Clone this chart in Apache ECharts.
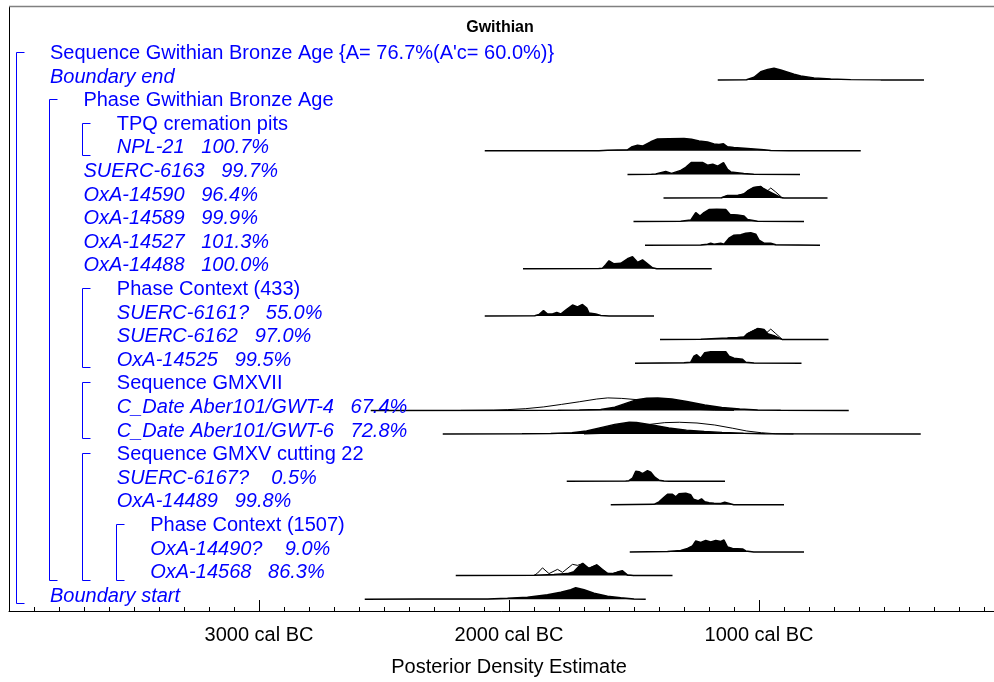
<!DOCTYPE html>
<html>
<head>
<meta charset="utf-8">
<script src="https://cdn.jsdelivr.net/npm/echarts@6/dist/echarts.min.js"></script>
<style>
html, body { margin: 0; padding: 0; background: #fff; overflow: hidden; }
#chart { width: 994px; height: 682px; }
</style>
</head>
<body>
<div id="chart"></div>
<script>
// Gwithian Bronze Age model: posterior density estimates (OxCal-style multiplot)

// Row labels, top to bottom
const rowNames = [
  "Sequence Gwithian Bronze Age {A= 76.7%(A'c= 60.0%)}",
  'Boundary end',
  'Phase Gwithian Bronze Age',
  'TPQ cremation pits',
  'NPL-21',
  'SUERC-6163',
  'OxA-14590',
  'OxA-14589',
  'OxA-14527',
  'OxA-14488',
  'Phase Context (433)',
  'SUERC-6161?',
  'SUERC-6162',
  'OxA-14525',
  'Sequence GMXVII',
  'C_Date Aber101/GWT-4',
  'C_Date Aber101/GWT-6',
  'Sequence GMXV cutting 22',
  'SUERC-6167?',
  'OxA-14489',
  'Phase Context (1507)',
  'OxA-14490?',
  'OxA-14568',
  'Boundary start'
];

// Agreement indices shown after each date
const rowAgreement = [
  '', '', '', '', '100.7%', '99.7%', '96.4%', '99.9%', '101.3%', '100.0%',
  '', '55.0%', '97.0%', '99.5%', '', '67.4%', '72.8%', '', '0.5%', '99.8%',
  '', '9.0%', '86.3%', ''
];

// Model structure: [first row, last row] of each Sequence / Phase
const groupRows = [[0, 23], [2, 22], [3, 4], [10, 13], [14, 16], [17, 22], [20, 22]];

// Axis tick labels (years cal BC)
const tickYears = [3000, 2000, 1000];

// Distributions: [year cal BC, relative probability]
const boundaryEnd = [[1165,0],[1050,2],[1020,22],[993,66],[965,85],[940,94],[913,80],[885,62],[860,46],[833,32],[780,17],[713,8],[633,3],[513,1],[340,0]];
const npl21 = [[2097,0],[1640,1],[1606,4],[1526,8],[1510,30],[1486,45],[1466,38],[1433,72],[1406,94],[1360,97],[1300,98],[1270,92],[1240,78],[1206,70],[1180,54],[1160,50],[1142,56],[1126,32],[1101,26],[1046,18],[981,8],[953,2],[880,1],[593,0]];
const suerc6163 = [[1526,0],[1430,1],[1413,4],[1373,24],[1350,8],[1313,32],[1293,56],[1270,96],[1226,96],[1206,74],[1185,82],[1165,66],[1142,94],[1126,40],[1113,20],[1061,8],[1021,2],[836,0]];
const oxa14590 = [[1382,0],[1150,2],[1126,20],[1086,20],[1061,32],[1046,56],[1021,84],[993,92],[981,74],[965,56],[941,32],[913,4],[900,0],[726,0]];
const oxa14590Lik = [[1150,2],[1126,20],[1086,20],[1061,32],[1046,56],[1021,84],[993,92],[981,74],[969,52],[953,80],[933,48],[906,0]];
const oxa14589 = [[1502,0],[1313,2],[1273,12],[1253,72],[1236,44],[1220,72],[1200,96],[1169,98],[1133,96],[1116,56],[1086,52],[1060,44],[1046,16],[1006,2],[820,0]];
const oxa14527 = [[1456,0],[1233,2],[1206,8],[1193,16],[1180,8],[1153,16],[1140,8],[1120,56],[1100,80],[1073,84],[1053,96],[1033,100],[1013,88],[1000,40],[980,16],[953,16],[933,4],[756,0]];
const oxa14488 = [[1944,0],[1641,2],[1626,4],[1613,32],[1600,64],[1580,40],[1553,44],[1526,80],[1506,96],[1486,52],[1466,72],[1446,40],[1426,8],[1409,0],[1189,0]];
const suerc6161 = [[2097,0],[1897,2],[1880,12],[1862,44],[1846,16],[1826,16],[1809,28],[1793,16],[1773,48],[1746,88],[1726,72],[1706,92],[1689,64],[1680,24],[1653,16],[1633,4],[1600,0],[1420,0]];
const suerc6162 = [[1396,0],[1233,2],[1126,12],[1086,16],[1060,20],[1046,48],[1006,88],[980,80],[966,48],[940,32],[906,0],[722,0]];
const suerc6162Lik = [[1126,12],[1086,16],[1060,20],[1046,48],[1006,88],[980,80],[969,56],[953,84],[933,48],[906,0]];
const oxa14525 = [[1496,0],[1300,4],[1273,8],[1260,56],[1249,68],[1233,40],[1217,84],[1193,92],[1133,92],[1120,56],[1100,40],[1066,32],[1053,8],[1020,2],[830,0]];
const gwt4 = [[2553,0],[1805,2],[1719,4],[1633,8],[1577,26],[1533,56],[1489,86],[1449,97],[1405,100],[1349,91],[1289,71],[1217,43],[1149,23],[1077,11],[1005,4],[913,1],[641,0]];
const gwt4Lik = [[2193,0],[2062,2],[2005,6],[1933,14],[1861,28],[1790,48],[1719,69],[1649,91],[1605,100],[1549,96],[1489,86],[1433,62],[1377,38],[1317,20],[1249,8],[1177,2],[1100,0]];
const gwt6 = [[2265,0],[1948,2],[1833,4],[1748,10],[1690,24],[1633,51],[1577,77],[1519,94],[1490,93],[1433,74],[1361,48],[1290,31],[1219,20],[1148,13],[1062,6],[977,2],[353,0]];
const gwt6Lik = [[1700,0],[1633,4],[1577,16],[1519,40],[1433,78],[1377,91],[1319,94],[1248,88],[1177,72],[1105,46],[1049,24],[990,10],[933,2],[862,0]];
const suerc6167 = [[1769,0],[1533,2],[1520,4],[1506,24],[1493,80],[1480,76],[1466,60],[1446,84],[1433,72],[1417,32],[1400,8],[1380,2],[1360,0],[1136,0]];
const oxa14489 = [[1593,0],[1420,4],[1400,24],[1380,60],[1366,84],[1346,84],[1333,64],[1320,88],[1293,92],[1273,80],[1262,44],[1244,32],[1230,48],[1217,24],[1200,16],[1180,12],[1153,10],[1137,20],[1129,4],[1101,0],[900,0]];
const oxa14490 = [[1517,0],[1366,4],[1313,12],[1286,28],[1266,48],[1253,88],[1233,76],[1213,92],[1193,80],[1173,92],[1153,84],[1140,96],[1126,40],[1106,28],[1066,24],[1053,8],[1021,0],[820,0]];
const oxa14568 = [[2213,0],[1900,2],[1820,8],[1766,16],[1740,32],[1721,72],[1705,98],[1681,58],[1649,86],[1626,48],[1606,18],[1586,16],[1566,28],[1546,38],[1526,4],[1501,0],[1346,0]];
const oxa14568Lik = [[1900,0],[1886,20],[1866,62],[1840,16],[1806,50],[1786,26],[1746,90],[1726,82],[1706,96],[1681,58],[1649,86],[1626,48],[1606,18],[1586,16],[1566,28],[1546,38],[1526,4],[1501,0]];
const boundaryStart = [[2577,0],[2353,1],[2085,2],[2006,8],[1926,16],[1846,36],[1793,56],[1753,76],[1733,92],[1700,76],[1660,48],[1606,24],[1553,12],[1500,2],[1453,0]];

// Which row each distribution belongs to: [row, posterior, likelihood outline]
const rowDistributions = [
  [1, boundaryEnd, null],
  [4, npl21, null],
  [5, suerc6163, null],
  [6, oxa14590, oxa14590Lik],
  [7, oxa14589, null],
  [8, oxa14527, null],
  [9, oxa14488, null],
  [11, suerc6161, null],
  [12, suerc6162, suerc6162Lik],
  [13, oxa14525, null],
  [15, gwt4, gwt4Lik],
  [16, gwt6, gwt6Lik],
  [18, suerc6167, null],
  [19, oxa14489, null],
  [21, oxa14490, null],
  [22, oxa14568, oxa14568Lik],
  [23, boundaryStart, null]
];

// ---- layout ----
const FONT = '"Liberation Sans", Arial, Helvetica, sans-serif';
const BLUE = '#0000ff';
const PLOT_LEFT = 9, PLOT_WIDTH = 1000, PLOT_TOP = 7, AXIS_Y = 611;
const ROW_TOP = 51.9, ROW_STEP = 23.6, PEAK_H = 12.5, BASE_OFFSET = 4.5, LABEL_SHIFT = 1.5;
const rowY = i => ROW_TOP + ROW_STEP * i;
const crisp = v => Math.round(v) + 0.5;

const toAD = pts => pts.map(([bc, p]) => [-bc, p]);

const grids = [{ left: PLOT_LEFT, width: PLOT_WIDTH, top: PLOT_TOP, height: AXIS_Y - PLOT_TOP, outerBoundsMode: 'none', containLabel: false }];
const xAxes = [{
  gridIndex: 0, type: 'value', min: -4000, max: 0, interval: 1000, position: 'bottom',
  axisLine: { show: true, onZero: false, lineStyle: { color: '#000', width: 1 } },
  axisTick: { show: true, inside: true, length: 11, lineStyle: { color: '#000', width: 1 } },
  minorTick: { show: true, splitNumber: 10, length: 4, lineStyle: { color: '#000', width: 1 } },
  splitLine: { show: false },
  axisLabel: {
    color: '#000', fontSize: 20, fontFamily: FONT, margin: 14,
    formatter: v => tickYears.indexOf(-v) >= 0 ? (-v) + ' cal BC' : ''
  },
  name: 'Posterior Density Estimate', nameLocation: 'middle', nameGap: 46,
  nameTextStyle: { color: '#000', fontSize: 20, fontFamily: FONT }
}];
// left frame edge drawn as the plot's (label-less) vertical axis line
const yAxes = [{
  gridIndex: 0, type: 'value', min: 0, max: 1, position: 'left',
  axisLine: { show: true, onZero: false, lineStyle: { color: '#000', width: 1 } },
  axisTick: { show: false }, axisLabel: { show: false }, splitLine: { show: false }
}];
const series = [];

rowDistributions.forEach(([row, post, lik]) => {
  const g = grids.length;
  const base = rowY(row) + BASE_OFFSET;
  grids.push({ left: PLOT_LEFT, width: PLOT_WIDTH, top: base - PEAK_H, height: PEAK_H, outerBoundsMode: 'none', containLabel: false });
  xAxes.push({ gridIndex: g, type: 'value', min: -4000, max: 0, show: false });
  yAxes.push({ gridIndex: g, type: 'value', min: 0, max: 100, show: false });
  if (lik) {
    series.push({
      type: 'line', xAxisIndex: g, yAxisIndex: g, data: toAD(lik), symbol: 'none',
      lineStyle: { color: '#000', width: 1 }, z: 2, silent: true, clip: false
    });
  }
  series.push({
    type: 'line', xAxisIndex: g, yAxisIndex: g, data: toAD(post), symbol: 'none',
    lineStyle: { color: '#000', width: 1.5 }, areaStyle: { color: '#000', opacity: 1 },
    z: 3, silent: true, clip: false
  });
});

// ---- text, brackets and frame ----
const graphics = [];
// grey top edge of the frame, running on past the right edge of the page
graphics.push({ type: 'rect', shape: { x: 9, y: 5.7, width: 1001, height: 1.6 }, style: { fill: '#808080' }, z: 10 });
// title
graphics.push({ type: 'text', x: 500, y: 28, style: { text: 'Gwithian', font: 'bold 16px ' + FONT, fill: '#000', align: 'center', verticalAlign: 'middle' }, z: 10 });

const depth = rowNames.map((_, i) => groupRows.filter(([a, b]) => i >= a && i <= b).length - 1);
const isGroup = rowNames.map((_, i) => groupRows.some(([a]) => a === i));

rowNames.forEach((name, i) => {
  const agr = rowAgreement[i];
  const text = agr ? name + (agr.length <= 4 ? '    ' : '   ') + agr : name;
  graphics.push({
    type: 'text', x: 50 + 33.4 * depth[i], y: rowY(i) + LABEL_SHIFT,
    style: { text: text, font: (isGroup[i] ? '' : 'italic ') + '20px ' + FONT, fill: BLUE, verticalAlign: 'middle' },
    z: 12
  });
});

groupRows.forEach(([a, b]) => {
  const x = crisp(16 + 33.2 * depth[a]);
  const y1 = crisp(rowY(a)), y2 = crisp(rowY(b) + 8.5);
  graphics.push({
    type: 'polyline', shape: { points: [[x + 8, y1], [x, y1], [x, y2], [x + 8, y2]] },
    style: { stroke: BLUE, lineWidth: 1, fill: null }, z: 11
  });
});

const chart = echarts.init(document.getElementById('chart'), null, { renderer: 'canvas' });
chart.setOption({
  animation: false,
  backgroundColor: '#fff',
  grid: grids, xAxis: xAxes, yAxis: yAxes, series: series,
  graphic: graphics
});
</script>
</body>
</html>
